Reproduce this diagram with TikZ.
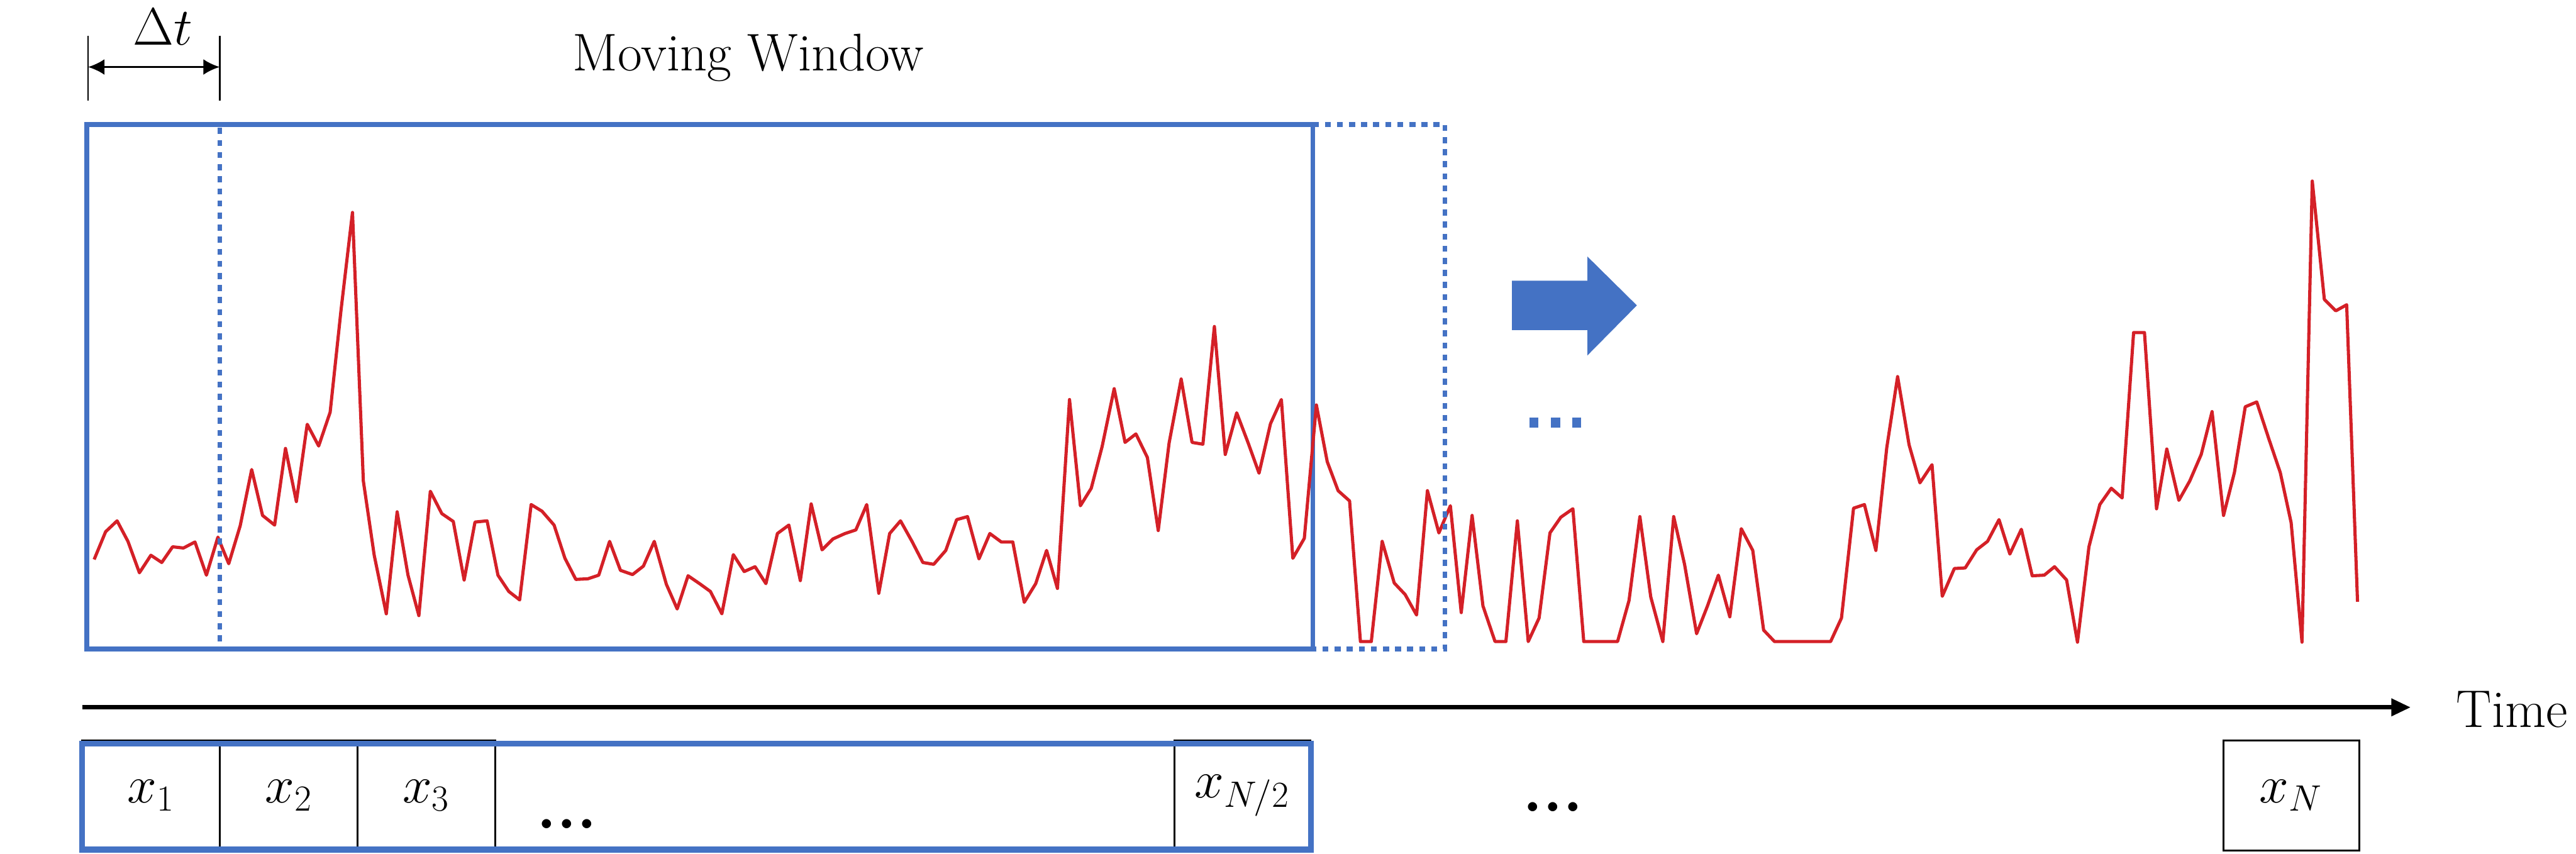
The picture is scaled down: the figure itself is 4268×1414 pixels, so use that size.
\documentclass[tikz,border=0pt]{standalone}
\usepackage{amsmath,amssymb}
\usepackage{tikz}
\usetikzlibrary{arrows.meta,positioning,calc}
\definecolor{WinBlue}{HTML}{4472C4}
\definecolor{Signal}{HTML}{D42027}
\newcommand{\bigtxt}{\fontsize{25}{30}\selectfont}

\begin{document}
\begin{tikzpicture}[x=0.01cm,y=-0.01cm,
    txt/.style={font=\bigtxt,inner sep=0pt},
    dots/.style={inner sep=0pt,font={\fontsize{30}{36}\selectfont\bfseries}},
    cell/.style={draw=black,line width=0.9pt,minimum width=2.28cm,minimum height=1.83cm,inner sep=0pt,outer sep=0pt,font=\bigtxt},
    win/.style={WinBlue,line width=0.08cm},
    windot/.style={win,dash pattern=on 0.1cm off 0.1cm}]
  \useasboundingbox (0,0) rectangle (4268,1414);
  % window width marker
  \coordinate (dtL) at (146,111);
  \coordinate (dtR) at (364,111);
  \draw[line width=0.7pt] (146,59) -- (146,167) (364,59) -- (364,167);
  \draw[line width=0.9pt,{Latex[length=0.27cm,width=0.26cm]}-{Latex[length=0.27cm,width=0.26cm]}] (dtL) -- (dtR);
  \node[txt,anchor=base] (dt) at (270,75) {$\Delta t$};
  \node[txt,anchor=base] (title) at (1240,117) {Moving Window};
  \draw[win] (144,206) rectangle (2175,1075);
  \draw[Signal,line width=1.5pt,line join=round] plot coordinates {
    (156,927) (175,881) (194,863) (212,897) (231,949) (250,920) (268,932) (286,906) (304,908) (323,898)
    (342,953) (361,890) (379,934) (398,871) (417,778) (435,854) (455,870) (473,743) (491,831) (509,703)
    (528,739) (547,683) (565,514) (584,352) (602,797) (620,920) (640,1017) (658,848) (676,953) (694,1020)
    (713,814) (732,851) (751,864) (769,961) (787,865) (807,863) (825,953) (843,980) (861,994) (880,836)
    (898,847) (918,870) (936,925) (954,960) (974,959) (992,953) (1010,897) (1028,945) (1048,952) (1066,938)
    (1084,897) (1104,968) (1122,1009) (1140,954) (1159,967) (1177,980) (1196,1017) (1215,919) (1233,947) (1251,939)
    (1269,967) (1288,884) (1307,870) (1326,962) (1344,835) (1362,911) (1380,893) (1400,884) (1418,878) (1436,836)
    (1456,983) (1474,884) (1492,863) (1511,897) (1529,932) (1547,935) (1567,912) (1585,861) (1603,856) (1622,926)
    (1640,884) (1659,898) (1678,898) (1697,998) (1716,967) (1734,912) (1752,975) (1772,662) (1790,838) (1808,809)
    (1826,740) (1846,644) (1864,733) (1882,719) (1901,758) (1919,879) (1937,734) (1957,628) (1975,733) (1993,736)
    (2012,541) (2030,753) (2049,684) (2068,734) (2086,784) (2105,702) (2123,662) (2142,925) (2161,892) (2181,671)
    (2199,765) (2217,813) (2236,830) (2254,1063) (2272,1063) (2290,897) (2310,966) (2328,985) (2347,1019) (2365,813)
    (2384,883) (2403,838) (2421,1015) (2439,854) (2457,1004) (2477,1063) (2495,1063) (2514,863) (2532,1063) (2550,1024)
    (2568,883) (2586,857) (2606,843) (2624,1063) (2643,1063) (2661,1063) (2680,1063) (2699,995) (2717,856) (2735,989)
    (2755,1063) (2773,856) (2791,935) (2811,1050) (2829,1004) (2847,953) (2866,1022) (2885,876) (2904,912) (2922,1044)
    (2940,1063) (2958,1063) (2976,1063) (2996,1063) (3014,1063) (3033,1063) (3051,1024) (3071,842) (3089,836) (3108,912)
    (3126,742) (3144,624) (3163,737) (3181,800) (3201,770) (3218,988) (3238,942) (3256,941) (3275,911) (3293,897)
    (3312,861) (3330,918) (3349,877) (3367,954) (3387,953) (3404,939) (3424,961) (3442,1064) (3461,906) (3479,836)
    (3498,809) (3516,825) (3535,551) (3553,551) (3573,843) (3590,744) (3610,829) (3628,797) (3647,753) (3665,682)
    (3684,854) (3702,783) (3720,674) (3739,666) (3759,727) (3778,783) (3796,866) (3814,1064) (3831,300) (3851,496)
    (3870,515) (3888,505) (3906,997)};
  \draw[windot] (2175,206) -- (2394,206) -- (2394,1075) -- (2175,1075);
  \draw[windot,line width=0.07cm] (364,212) -- (364,1071);
  % shift of the window
  \fill[WinBlue] (2505,465) -- (2630,465) -- (2630,425) -- (2712,506) -- (2630,589) -- (2630,547) -- (2505,547) -- cycle;
  \foreach \x in {2534,2570,2605}
    \fill[WinBlue] (\x,692) rectangle +(15,17);
  % time axis and samples
  \coordinate (t0) at (136,1172);
  \coordinate (t1) at (3994,1172);
  \draw[line width=2pt,-{Triangle[length=0.32cm,width=0.28cm]}] (t0) -- (t1);
  \node[txt,anchor=base west] (time) at (4069,1205) {Time};
  \node[cell] (c1) at (250,1318) {$x_1$};
  \node[cell,right=0pt of c1] (c2) {$x_2$};
  \node[cell,right=0pt of c2] (c3) {$x_3$};
  \node[cell,minimum width=2.25cm] (cN2) at (2058,1318) {$x_{N/2}$};
  \node[cell,minimum width=2.25cm] (cN) at (3796,1318) {$x_N$};
  \node[dots,anchor=base] (dotsA) at (939,1373) {...};
  \node[dots,anchor=base] (dotsB) at (2573,1345) {...};
  \draw[WinBlue,line width=0.1cm] (136,1232) rectangle (2172,1408);
\end{tikzpicture}
\end{document}
